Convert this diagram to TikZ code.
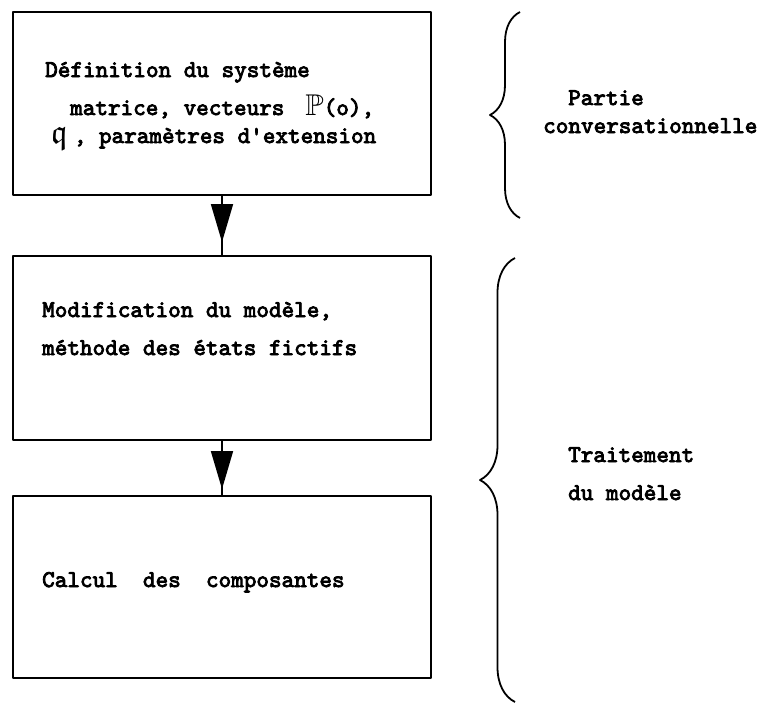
\documentclass[tikz,border=0pt]{standalone}
\usepackage{fontspec}
\usepackage{amssymb}
\newfontfamily\machine[FakeBold=3.5]{lmmono10-regular.otf}
\usetikzlibrary{arrows.meta,decorations.pathreplacing}

\begin{document}
\begin{tikzpicture}[x=1pt,y=-1pt,line join=round,
    bloc/.style={draw,line width=1.8pt,inner sep=0pt,minimum width=418pt},
    txt/.style={anchor=base west,inner sep=0pt,font=\fontsize{24}{28}\selectfont\machine},
    lien/.style={line width=1.6pt},
    tete/.style={line width=1.6pt,-{Triangle[length=38pt,width=22pt]}},
    acc/.style={line width=1.8pt,decorate,decoration={brace,amplitude=#1}}]
    \useasboundingbox (0,0) rectangle (762,704);
    % les trois blocs
    \node[bloc,minimum height=183pt] (def) at (222,103.5) {};
    \node[bloc,minimum height=184pt] (modif) at (222,348) {};
    \node[bloc,minimum height=182pt] (calc) at (222,587) {};
    \node[txt] (def1) at (45,77) {Définition du système};
    \node[txt] (def2) at (70,115) {matrice, vecteurs\hspace{21pt}{\fontsize{30}{30}\selectfont$\mathbb{P}$}(o),};
    \node[txt] (def3) at (51,143) {{\fontsize{34}{34}\selectfont$\mathfrak{q}$}\hspace{6pt}, paramètres d\textquotesingle extension};
    \node[txt] (modif1) at (42,317) {Modification du modèle,};
    \node[txt] (modif2) at (42,355) {méthode des états fictifs};
    \node[txt] (calc1) at (42,587) {Calcul\ \ des\ \ composantes};
    % fleches
    \draw[lien] (def.south) -- (modif.north);
    \draw[tete] (def.south) -- ([yshift=13pt]modif.north);
    \draw[lien] (modif.south) -- (calc.north);
    \draw[tete] (modif.south) -- ([yshift=6pt]calc.north);
    % accolades
    \draw[acc=30pt] (520,218) -- (520,12);
    \draw[acc=35pt] (515,702) -- (515,258);
    \node[txt] (partie) at (568,105) {Partie};
    \node[txt] (conv) at (543,133) {conversationnelle};
    \node[txt] (trait) at (568,462) {Traitement};
    \node[txt] (dumod) at (568,500) {du modèle};
\end{tikzpicture}
\end{document}
